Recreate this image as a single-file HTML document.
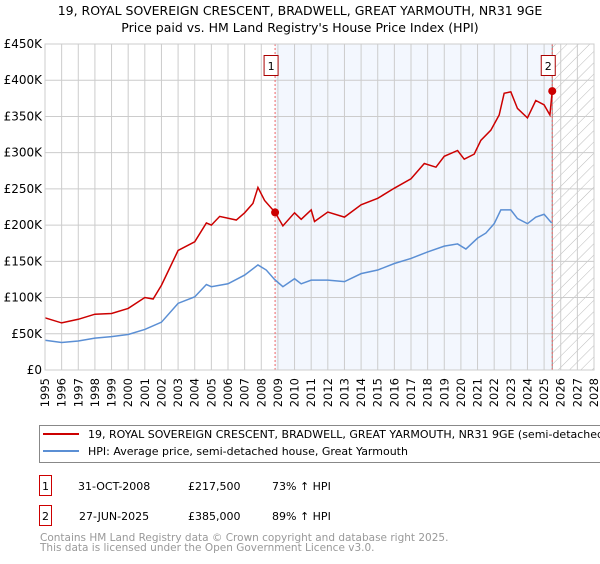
<!DOCTYPE html>
<html><head><meta charset="utf-8"><style>
body{margin:0;background:#fff;font-family:"DejaVu Sans","Liberation Sans",sans-serif;}
svg text{font-family:"DejaVu Sans","Liberation Sans",sans-serif;}
</style></head><body>
<svg id="chart" width="600" height="560">
<defs>
<pattern id="hatch" patternUnits="userSpaceOnUse" width="8" height="8" patternTransform="rotate(45)">
<line x1="0" y1="0" x2="0" y2="8" stroke="#bbb" stroke-width="1"/>
</pattern>
</defs>
<text x="300" y="15" text-anchor="middle" font-size="12.5">19, ROYAL SOVEREIGN CRESCENT, BRADWELL, GREAT YARMOUTH, NR31 9GE</text>
<text x="300" y="32" text-anchor="middle" font-size="12.5">Price paid vs. HM Land Registry's House Price Index (HPI)</text>
<g id="plot"></g>
<rect x="39.5" y="425.5" width="570" height="37" fill="#fff" stroke="#888"/>
<line x1="43" y1="434" x2="79" y2="434" stroke="#cc0000" stroke-width="2"/>
<text x="88" y="438" font-size="11">19, ROYAL SOVEREIGN CRESCENT, BRADWELL, GREAT YARMOUTH, NR31 9GE (semi-detached house)</text>
<line x1="43" y1="451" x2="79" y2="451" stroke="#5b8fd4" stroke-width="2"/>
<text x="88" y="455" font-size="11">HPI: Average price, semi-detached house, Great Yarmouth</text>
<g>
<rect x="39.5" y="475.5" width="12" height="20" fill="#fff" stroke="#cc0000"/>
<text x="45.5" y="490" font-size="11" text-anchor="middle">1</text>
<text x="78" y="490" font-size="11">31-OCT-2008</text>
<text x="188" y="490" font-size="11">£217,500</text>
<text x="272" y="490" font-size="11">73% ↑ HPI</text>
</g>
<g>
<rect x="39.5" y="505.5" width="12" height="20" fill="#fff" stroke="#cc0000"/>
<text x="45.5" y="520" font-size="11" text-anchor="middle">2</text>
<text x="79" y="520" font-size="11">27-JUN-2025</text>
<text x="188" y="520" font-size="11">£385,000</text>
<text x="272" y="520" font-size="11">89% ↑ HPI</text>
</g>
<text x="40" y="541" font-size="10.5" fill="#999">Contains HM Land Registry data © Crown copyright and database right 2025.</text>
<text x="40" y="551" font-size="10.5" fill="#999">This data is licensed under the Open Government Licence v3.0.</text>
</svg>
<script>
const hpiYears=[1995,1996,1997,1998,1999,2000,2001,2002,2003,2004,2004.7,2005,2006,2007,2007.8,2008.3,2008.8,2009.3,2010,2010.4,2011,2012,2013,2014,2015,2016,2017,2018,2019,2019.8,2020.3,2021,2021.5,2022,2022.4,2023,2023.4,2024,2024.5,2025,2025.45];
const hpiValues=[41,38,40,44,46,49,56,66,92,101,118,115,119,131,145,138,125,115,126,119,124,124,122,133,138,147,154,163,171,174,167,182,189,202,221,221,209,202,211,215,203];
const propYears=[1995,1996,1997,1998,1999,2000,2001,2001.5,2002,2003,2004,2004.7,2005,2005.5,2006.5,2007,2007.5,2007.8,2008.2,2008.83,2009.3,2010,2010.4,2011,2011.2,2012,2013,2014,2015,2016,2017,2017.8,2018.5,2019,2019.8,2020.2,2020.8,2021.2,2021.8,2022.3,2022.6,2023,2023.4,2024,2024.5,2025,2025.35,2025.49];
const propValues=[72,65,70,77,78,85,100,98,117,165,177,203,200,212,207,217,230,252,234,217.5,199,217,208,221,205,218,211,228,237,251,264,285,280,295,303,291,298,317,331,352,382,384,361,348,372,366,352,385];
const saleYears=[2008.83,2025.49];
const saleValues=[217.5,385];
const yTicks=[0,50,100,150,200,250,300,350,400,450];
const yTickLabels=["£0","£50K","£100K","£150K","£200K","£250K","£300K","£350K","£400K","£450K"];
const xTicks=[];for(let y=1995;y<=2028;y++)xTicks.push(y);

const X0=45,X1=594,Y0=370,Y1=44;
const xs=y=>X0+(y-1995)/(2028-1995)*(X1-X0);
const ys=v=>Y0-v/450*(Y0-Y1);
const NS="http://www.w3.org/2000/svg";
const g=document.getElementById('plot');
function mk(t,a){const e=document.createElementNS(NS,t);for(const k in a)e.setAttribute(k,a[k]);g.appendChild(e);return e;}
let e;
e=mk('rect',{x:xs(saleYears[0]),y:Y1,width:xs(saleYears[1])-xs(saleYears[0]),height:Y0-Y1,fill:'#eef3fd',opacity:0.7});


e=mk('rect',{x:xs(saleYears[1]),y:Y1,width:X1-xs(saleYears[1]),height:Y0-Y1,fill:'url(#hatch)'});


yTicks.forEach((v,i)=>{
 e=mk('line',{x1:X0,x2:X1,y1:ys(v),y2:ys(v),stroke:'#ccc'});
 
 
 e=mk('text',{x:X0-3,y:ys(v)+4,'text-anchor':'end','font-size':12});
 e.textContent=yTickLabels[i];
 
 
});
xTicks.forEach(y=>{
 e=mk('line',{x1:xs(y),x2:xs(y),y1:Y1,y2:Y0,stroke:'#ccc'});
 
 
 e=mk('text',{x:0,y:0,'text-anchor':'end','font-size':11.5,transform:`translate(${xs(y)+4},${Y0+8}) rotate(-90)`});
 e.textContent=y;
 
 
});
e=mk('line',{x1:xs(saleYears[1]),x2:xs(saleYears[1]),y1:Y1,y2:Y0,stroke:'#888'});


saleYears.forEach((y,i)=>{
 e=mk('line',{x1:xs(y),x2:xs(y),y1:Y1,y2:Y0,stroke:'#e66','stroke-dasharray':'2,2'});
 
 
});
e=mk('polyline',{points:hpiYears.map((y,i)=>xs(y)+','+ys(hpiValues[i])).join(' '),fill:'none',stroke:'#5b8fd4','stroke-width':1.5});


e=mk('polyline',{points:propYears.map((y,i)=>xs(y)+','+ys(propValues[i])).join(' '),fill:'none',stroke:'#cc0000','stroke-width':1.5});


saleYears.forEach((y,i)=>{
 e=mk('circle',{cx:xs(y),cy:ys(saleValues[i]),r:4,fill:'#cc0000'});
 
 
 const bx=xs(y)-4;
 e=mk('rect',{x:bx-7,y:55.5,width:14,height:20,fill:'#fff',stroke:'#aa0000'});
 
 
 e=mk('text',{x:bx,y:70,'text-anchor':'middle','font-size':11});
 e.textContent=String(i+1);
 
 
});
e=mk('rect',{x:X0,y:Y1,width:X1-X0,height:Y0-Y1,fill:'none',stroke:'#ccc'});


</script>
</body></html>
